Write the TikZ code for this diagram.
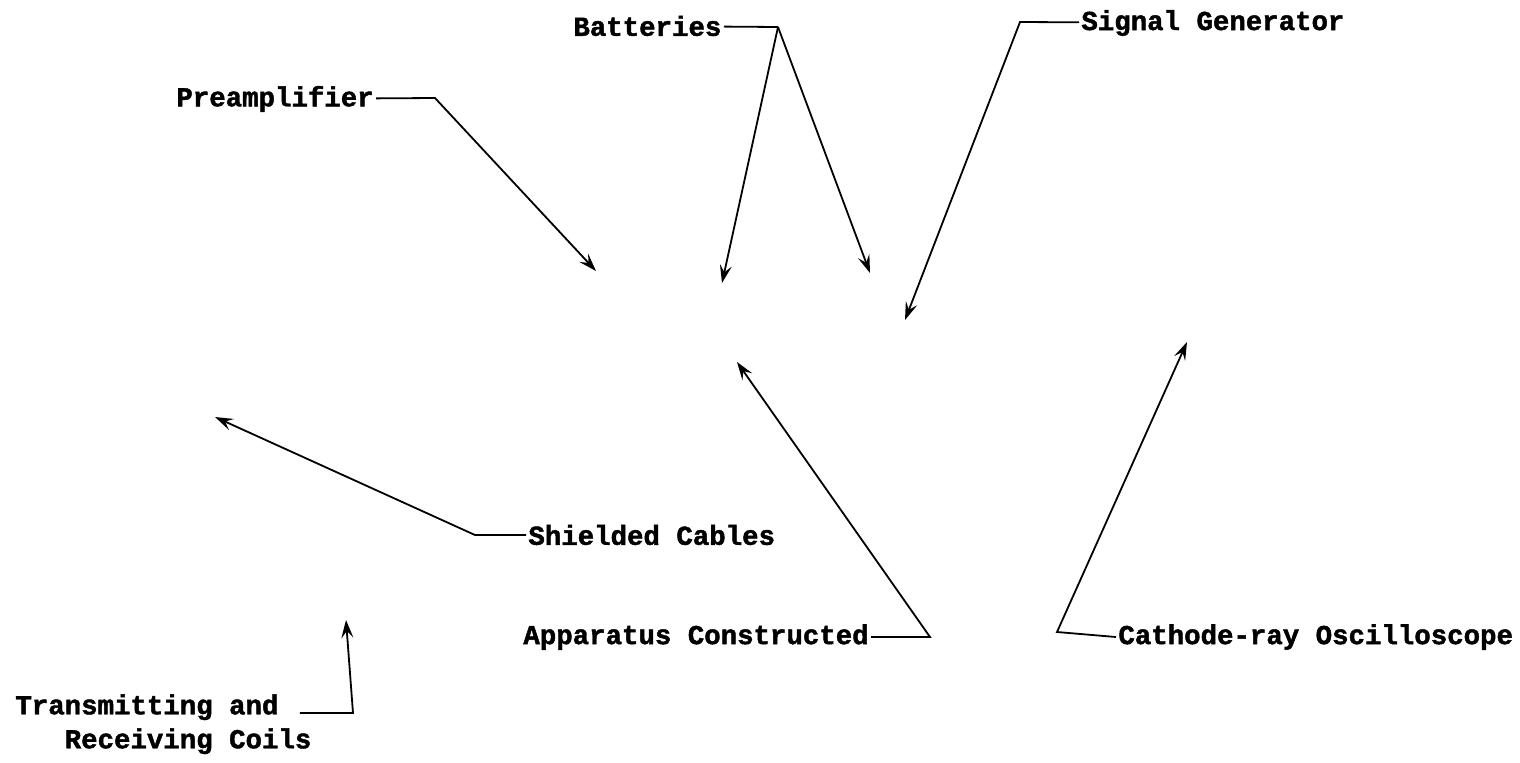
\documentclass[tikz,border=0pt]{standalone}
\usepackage{fontspec}
\newfontfamily\typerfont{Liberation Mono Bold}[FakeBold=1.6]
\usetikzlibrary{arrows.meta}

\tikzset{every picture/.style={line width=0.9pt}}
\tikzset{
  label/.style={anchor=west, inner sep=0.75pt, font=\fontsize{13.7}{17}\selectfont\typerfont},
  pointer/.style={-{Stealth[length=9pt,width=6pt,inset=3.5pt]}}
}

\begin{document}
\begin{tikzpicture}[x=0.5pt,y=0.5pt,yscale=-1,xscale=1]
\useasboundingbox (0,0) rectangle (1520,762);

% Text Node
\node [label] (batt) at (571,26) {Batteries};
% Text Node
\node [label] (preamp) at (174,99) {Preamplifier};
% Text Node
\node [label] (siggen) at (1079,23) {Signal Generator};
% Text Node
\node [label] (shield) at (526,535) {Shielded Cables};
% Text Node
\node [label] (appar) at (521,637) {Apparatus Constructed};
% Text Node
\node [label] (cro) at (1116,637) {Cathode-ray Oscilloscope};
% Text Node
\node [label, anchor=north west, align=left] (coils) at (13,692) {Transmitting and\\\phantom{Tra}Receiving Coils};

% bends and tips
\coordinate (bat_k) at (778,27);
\coordinate (bat_a) at (722,283);
\coordinate (bat_b) at (870,273);
\coordinate (pre_k) at (435,98);
\coordinate (pre_a) at (596,271);
\coordinate (sig_k) at (1020,22);
\coordinate (sig_a) at (905,320);
\coordinate (shi_k) at (475,535);
\coordinate (shi_a) at (215,417);
\coordinate (app_k) at (930,637);
\coordinate (app_a) at (737,362);
\coordinate (cro_k) at (1057,632);
\coordinate (cro_a) at (1187,342);
\coordinate (coi_k) at (353,713);
\coordinate (coi_a) at (346,620);

%Straight Lines
\draw (batt) -- (bat_k);
\draw [pointer] (bat_k) -- (bat_a);
\draw [pointer] (bat_k) -- (bat_b);
%Straight Lines
\draw [pointer] (preamp) -- (pre_k) -- (pre_a);
%Straight Lines
\draw [pointer] (siggen) -- (sig_k) -- (sig_a);
%Straight Lines
\draw [pointer] (shield) -- (shi_k) -- (shi_a);
%Straight Lines
\draw [pointer] (appar) -- (app_k) -- (app_a);
%Straight Lines
\draw [pointer] (cro.west) -- (cro_k) -- (cro_a);
%Straight Lines
\draw [pointer] ([xshift=-7pt]coils.east |- coi_k) -- (coi_k) -- (coi_a);

\end{tikzpicture}
\end{document}
